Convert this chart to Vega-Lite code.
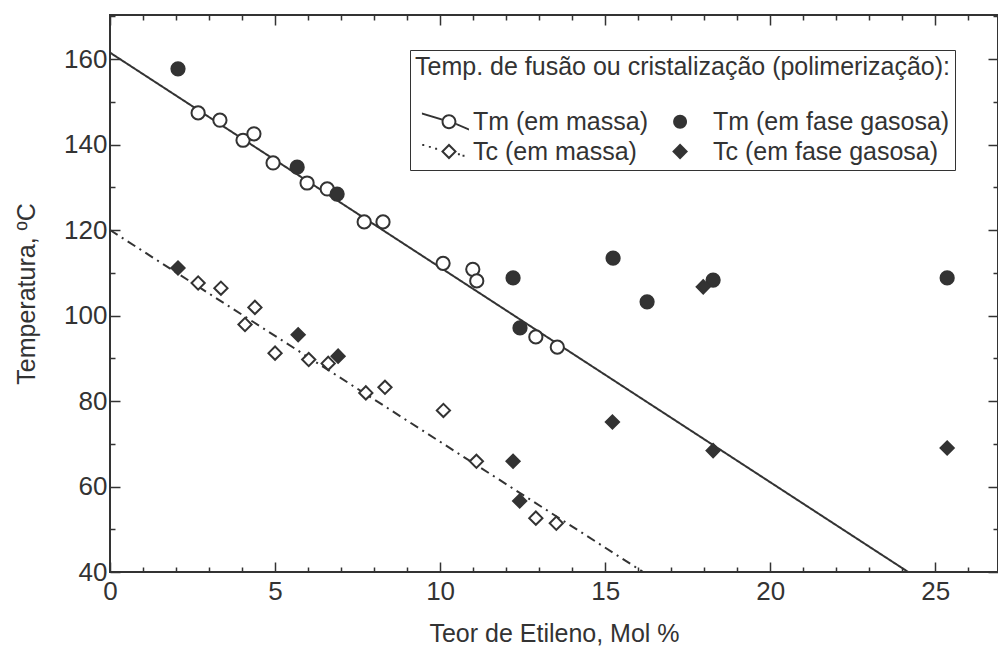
{
  "$schema": "https://vega.github.io/schema/vega-lite/v6.json",
  "width": 888,
  "height": 557,
  "autosize": {"type": "none"},
  "padding": {"left": 110, "top": 15, "right": 0, "bottom": 79},
  "background": "white",
  "config": {
    "view": {"stroke": "#333", "strokeWidth": 2},
    "font": "Liberation Sans"
  },
  "datasets": {
    "pontos": [
      {"teor": 2.67, "temp": 147.4, "serie": "Tm (em massa)"},
      {"teor": 3.33, "temp": 145.7, "serie": "Tm (em massa)"},
      {"teor": 4.03, "temp": 141.0, "serie": "Tm (em massa)"},
      {"teor": 4.36, "temp": 142.5, "serie": "Tm (em massa)"},
      {"teor": 4.94, "temp": 135.7, "serie": "Tm (em massa)"},
      {"teor": 5.97, "temp": 131.0, "serie": "Tm (em massa)"},
      {"teor": 6.58, "temp": 129.6, "serie": "Tm (em massa)"},
      {"teor": 7.7, "temp": 121.9, "serie": "Tm (em massa)"},
      {"teor": 8.27, "temp": 121.9, "serie": "Tm (em massa)"},
      {"teor": 10.09, "temp": 112.2, "serie": "Tm (em massa)"},
      {"teor": 10.99, "temp": 110.8, "serie": "Tm (em massa)"},
      {"teor": 11.11, "temp": 108.1, "serie": "Tm (em massa)"},
      {"teor": 12.9, "temp": 95.0, "serie": "Tm (em massa)"},
      {"teor": 13.55, "temp": 92.6, "serie": "Tm (em massa)"},
      {"teor": 2.67, "temp": 107.6, "serie": "Tc (em massa)"},
      {"teor": 3.36, "temp": 106.4, "serie": "Tc (em massa)"},
      {"teor": 4.09, "temp": 97.9, "serie": "Tc (em massa)"},
      {"teor": 4.39, "temp": 101.9, "serie": "Tc (em massa)"},
      {"teor": 5.0, "temp": 91.2, "serie": "Tc (em massa)"},
      {"teor": 6.02, "temp": 89.7, "serie": "Tc (em massa)"},
      {"teor": 6.61, "temp": 88.8, "serie": "Tc (em massa)"},
      {"teor": 7.75, "temp": 81.9, "serie": "Tc (em massa)"},
      {"teor": 8.33, "temp": 83.2, "serie": "Tc (em massa)"},
      {"teor": 10.1, "temp": 77.8, "serie": "Tc (em massa)"},
      {"teor": 11.1, "temp": 65.9, "serie": "Tc (em massa)"},
      {"teor": 12.9, "temp": 52.6, "serie": "Tc (em massa)"},
      {"teor": 13.52, "temp": 51.4, "serie": "Tc (em massa)"},
      {"teor": 2.06, "temp": 157.7, "serie": "Tm (em fase gasosa)"},
      {"teor": 5.67, "temp": 134.7, "serie": "Tm (em fase gasosa)"},
      {"teor": 6.88, "temp": 128.4, "serie": "Tm (em fase gasosa)"},
      {"teor": 12.21, "temp": 108.8, "serie": "Tm (em fase gasosa)"},
      {"teor": 12.42, "temp": 97.1, "serie": "Tm (em fase gasosa)"},
      {"teor": 15.24, "temp": 113.4, "serie": "Tm (em fase gasosa)"},
      {"teor": 16.27, "temp": 103.2, "serie": "Tm (em fase gasosa)"},
      {"teor": 18.27, "temp": 108.3, "serie": "Tm (em fase gasosa)"},
      {"teor": 25.36, "temp": 108.8, "serie": "Tm (em fase gasosa)"},
      {"teor": 2.06, "temp": 111.1, "serie": "Tc (em fase gasosa)"},
      {"teor": 5.7, "temp": 95.5, "serie": "Tc (em fase gasosa)"},
      {"teor": 6.91, "temp": 90.5, "serie": "Tc (em fase gasosa)"},
      {"teor": 12.21, "temp": 65.9, "serie": "Tc (em fase gasosa)"},
      {"teor": 12.41, "temp": 56.6, "serie": "Tc (em fase gasosa)"},
      {"teor": 15.22, "temp": 75.1, "serie": "Tc (em fase gasosa)"},
      {"teor": 17.97, "temp": 106.7, "serie": "Tc (em fase gasosa)"},
      {"teor": 18.27, "temp": 68.4, "serie": "Tc (em fase gasosa)"},
      {"teor": 25.36, "temp": 69.0, "serie": "Tc (em fase gasosa)"}
    ]
  },
  "layer": [
    {
      "data": {
        "values": [
          {"teor": 0, "temp": 161.5, "linha": "Tm"},
          {"teor": 24.18, "temp": 40, "linha": "Tm"},
          {"teor": 0, "temp": 120, "linha": "Tc"},
          {"teor": 16.15, "temp": 40, "linha": "Tc"}
        ]
      },
      "mark": {"type": "line", "stroke": "#333", "strokeWidth": 2},
      "encoding": {
        "x": {
          "field": "teor", "type": "quantitative",
          "scale": {"domain": [0, 26.9], "nice": false, "zero": false},
          "axis": {
            "title": "Teor de Etileno, Mol %",
            "values": [0,1,2,3,4,5,6,7,8,9,10,11,12,13,14,15,16,17,18,19,20,21,22,23,24,25,26],
            "labelExpr": "datum.value % 5 === 0 ? datum.label : ''",
            "grid": false, "domain": false, "ticks": true,
            "tickSize": {"condition": {"test": "datum.value % 5 === 0", "value": -10}, "value": -5},
            "tickColor": "#333", "tickWidth": 1.5,
            "labelFontSize": 26, "titleFontSize": 25, "titleFontWeight": "normal",
            "labelColor": "#333", "titleColor": "#333",
            "labelPadding": 16, "titlePadding": 12,
            "labelFlush": false, "labelOverlap": false
          }
        },
        "y": {
          "field": "temp", "type": "quantitative",
          "scale": {"domain": [40, 170.3], "nice": false, "zero": false},
          "axis": {
            "title": "Temperatura, ºC",
            "values": [40,50,60,70,80,90,100,110,120,130,140,150,160,170],
            "labelExpr": "datum.value % 20 === 0 ? datum.label : ''",
            "grid": false, "domain": false, "ticks": true,
            "tickSize": {"condition": {"test": "datum.value % 20 === 0", "value": -10}, "value": -5},
            "tickColor": "#333", "tickWidth": 1.5,
            "labelFontSize": 26, "titleFontSize": 25, "titleFontWeight": "normal",
            "labelColor": "#333", "titleColor": "#333",
            "labelPadding": 13, "titlePadding": 24,
            "labelFlush": false, "labelOverlap": false
          }
        },
        "strokeDash": {
          "field": "linha", "type": "nominal",
          "scale": {"domain": ["Tm", "Tc"], "range": [[1, 0], [9, 5, 2, 5]]},
          "legend": null
        }
      }
    },
    {
      "data": {"name": "pontos"},
      "mark": {"type": "point", "filled": true, "stroke": "#333", "strokeWidth": 2, "opacity": 1, "size": 175},
      "encoding": {
        "x": {
          "field": "teor", "type": "quantitative",
          "axis": {
            "orient": "top", "title": null, "labels": false,
            "values": [0,1,2,3,4,5,6,7,8,9,10,11,12,13,14,15,16,17,18,19,20,21,22,23,24,25,26],
            "grid": false, "domain": false, "ticks": true,
            "tickSize": {"condition": {"test": "datum.value % 5 === 0", "value": -10}, "value": -5},
            "tickColor": "#333", "tickWidth": 1.5
          }
        },
        "y": {
          "field": "temp", "type": "quantitative",
          "axis": {
            "orient": "right", "title": null, "labels": false,
            "values": [40,50,60,70,80,90,100,110,120,130,140,150,160,170],
            "grid": false, "domain": false, "ticks": true,
            "tickSize": {"condition": {"test": "datum.value % 20 === 0", "value": -10}, "value": -5},
            "tickColor": "#333", "tickWidth": 1.5
          }
        },
        "shape": {
          "field": "serie", "type": "nominal",
          "scale": {
            "domain": ["Tm (em massa)", "Tc (em massa)", "Tm (em fase gasosa)", "Tc (em fase gasosa)"],
            "range": ["circle", "diamond", "circle", "diamond"]
          },
          "legend": null
        },
        "fill": {
          "field": "serie", "type": "nominal",
          "scale": {
            "domain": ["Tm (em massa)", "Tc (em massa)", "Tm (em fase gasosa)", "Tc (em fase gasosa)"],
            "range": ["white", "white", "#333", "#333"]
          },
          "legend": null
        }
      }
    },
    {
      "data": {"name": "pontos"},
      "transform": [{"filter": "false"}],
      "mark": {"type": "point", "filled": true, "color": "#333"},
      "encoding": {
        "x": {"field": "teor", "type": "quantitative", "axis": null},
        "y": {"field": "temp", "type": "quantitative", "axis": null},
        "shape": {
          "field": "serie", "type": "nominal",
          "scale": {
            "domain": ["Tm (em massa)", "Tc (em massa)", "Tm (em fase gasosa)", "Tc (em fase gasosa)"],
            "range": [
              "M1.51,0A0.45,0.45,0,1,1,0.61,0A0.45,0.45,0,1,1,1.51,0ZM1.39,0A0.33,0.33,0,1,0,0.73,0A0.33,0.33,0,1,0,1.39,0ZM-0.58,-0.56L0.63,-0.19L0.63,-0.07L-0.58,-0.44ZM1.49,0.07L2.27,0.41L2.27,0.53L1.49,0.19Z",
              "M1.06,-0.48L1.54,0L1.06,0.48L0.58,0ZM1.06,-0.31L0.75,0L1.06,0.31L1.37,0ZM-0.56,-0.46L-0.44,-0.46L-0.44,-0.34L-0.56,-0.34ZM-0.16,-0.34L-0.04,-0.34L-0.04,-0.22L-0.16,-0.22ZM0.22,-0.22L0.34,-0.22L0.34,-0.1L0.22,-0.1ZM1.6,0.1L1.72,0.1L1.72,0.22L1.6,0.22ZM1.88,0.2L2.0,0.2L2.0,0.32L1.88,0.32Z",
              "M0.94,0A0.42,0.42,0,1,1,0.1,0A0.42,0.42,0,1,1,0.94,0Z",
              "M0.52,-0.48L1.0,0L0.52,0.48L0.04,0Z"
            ]
          },
          "legend": {
            "title": "Temp. de fusão ou cristalização (polimerização):",
            "orient": "none", "legendX": 300, "legendY": 35,
            "columns": 2, "columnPadding": 7, "rowPadding": -4,
            "padding": 5, "titlePadding": 25,
            "strokeColor": "#333", "fillColor": "white",
            "titleFontSize": 25, "titleFontWeight": "normal", "titleColor": "#333", "titleLimit": 1000,
            "labelFontSize": 25, "labelColor": "#333", "labelLimit": 500, "labelOffset": 25,
            "symbolSize": 1089, "symbolFillColor": "#333", "symbolStrokeWidth": 0, "symbolOpacity": 1
          }
        }
      }
    }
  ],
  "resolve": {
    "axis": {"x": "independent", "y": "independent"},
    "scale": {"shape": "independent"}
  }
}
